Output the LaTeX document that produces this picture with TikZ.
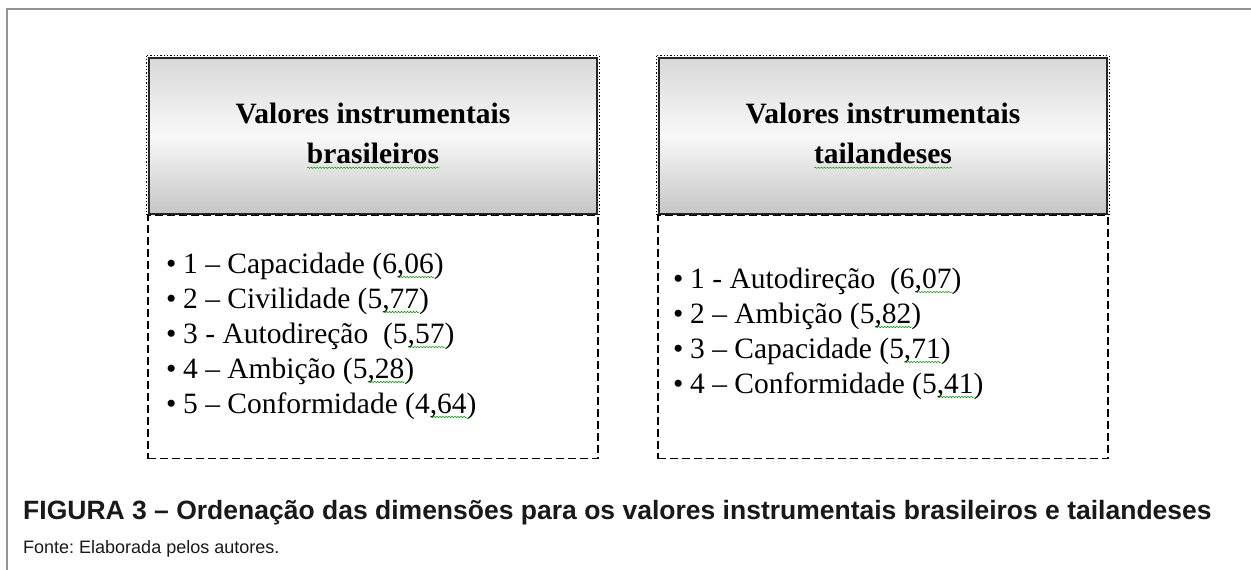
\documentclass[tikz,border=0pt]{standalone}
\usepackage{fontspec}
\setmainfont{Liberation Serif}
\newfontfamily\capfont{Liberation Sans}
\usetikzlibrary{decorations.pathmorphing}
\frenchspacing
\tikzstyle{frame}=[draw=gray!85,line width=1.2pt]
\tikzstyle{headbox}=[draw=black!85,line width=1.4pt,minimum width=448pt,minimum height=156pt,
  top color=gray!30,bottom color=gray!45,middle color=gray!5,
  align=center,font=\bfseries\fontsize{29.5}{40}\selectfont]
\tikzstyle{headedge}=[draw,line width=1.3pt,dotted]
\tikzstyle{listbox}=[draw,line width=1.6pt,dash pattern=on 8pt off 4pt,
  minimum width=450pt,minimum height=243pt]
\tikzstyle{item}=[anchor=base west,inner sep=0pt,font=\fontsize{29.5}{35}\selectfont]
\tikzstyle{caption}=[anchor=base west,inner sep=0pt,text=black!90]
\newcommand\squig[1]{% green spell-check line under a word
  \setbox0\hbox{#1}\rlap{\tikz[baseline=0pt]\draw[green!60!black,line width=.5pt,
    decorate,decoration={snake,amplitude=.7pt,segment length=3pt}]
    (0pt,-4pt) -- (\wd0,-4pt);}\box0}
\newcommand\bul{\makebox[17pt][l]{\textbullet}}

\begin{document}
\begin{tikzpicture}[x=1pt,y=-1pt]
  \useasboundingbox (0,0) rectangle (1251,570);
  \draw[frame] (1251,9) -- (7,9) -- (7,570);

  % left: brasileiros
  \node[listbox] (bl) at (373,337) {};
  \node[headbox] (bh) at (373,136) {Valores instrumentais\\ \squig{brasileiros}};
  \draw[headedge] ([xshift=-1.5pt,yshift=1.5pt]bh.north west) rectangle ([xshift=1.5pt]bh.south east);
  \foreach \txt [count=\i] in {{1 – Capacidade (6\squig{,06})},
      {2 – Civilidade (5\squig{,77})}, {3 - Autodireção \ (5\squig{,57})},
      {4 – Ambição (5\squig{,28})}, {5 – Conformidade (4\squig{,64})}}
    \node[item] (b\i) at (166,{273+35*(\i-1)}) {\bul\txt};

  % right: tailandeses
  \node[listbox] (tl) at (883,337) {};
  \node[headbox] (th) at (883,136) {Valores instrumentais\\ \squig{tailandeses}};
  \draw[headedge] ([xshift=-1.5pt,yshift=1.5pt]th.north west) rectangle ([xshift=1.5pt]th.south east);
  \foreach \txt [count=\i] in {{1 - Autodireção \ (6\squig{,07})},
      {2 – Ambição (5\squig{,82})}, {3 – Capacidade (5\squig{,71})},
      {4 – Conformidade (5\squig{,41})}}
    \node[item] (t\i) at (673,{288+35*(\i-1)}) {\bul\txt};

  \node[caption,font=\capfont\bfseries\fontsize{26.5}{30}\selectfont] (fig) at (23,519)
    {FIGURA 3 – Ordenação das dimensões para os valores instrumentais brasileiros e tailandeses};
  \node[caption,font=\capfont\fontsize{18}{20}\selectfont] (src) at (23,553)
    {Fonte: Elaborada pelos autores.};
\end{tikzpicture}
\end{document}
